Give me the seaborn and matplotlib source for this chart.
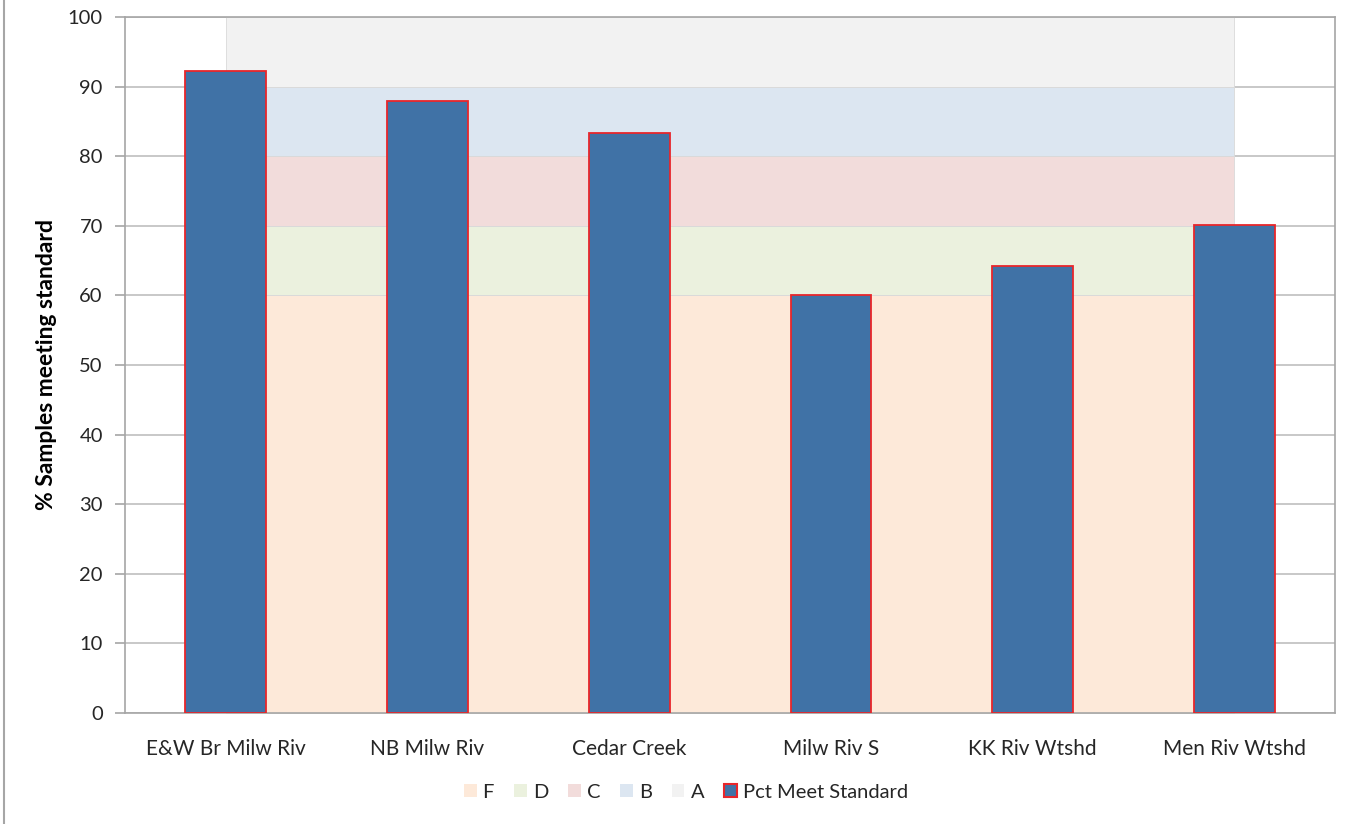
import matplotlib
matplotlib.use("Agg")
import matplotlib.pyplot as plt
from matplotlib.patches import Patch
from matplotlib.lines import Line2D
import numpy as np
import pandas as pd
import seaborn as sns

# Sites and share of samples meeting the standard
sites = ["E&W Br Milw Riv", "NB Milw Riv", "Cedar Creek",
         "Milw Riv S", "KK Riv Wtshd", "Men Riv Wtshd"]
pct_meet = [92.2, 87.9, 83.3, 60.0, 64.2, 70.1]

# Grade bands (stacked thicknesses from 0 to 100)
grade_names = ["F", "D", "C", "B", "A"]
grade_size = [60, 10, 10, 10, 10]
grade_colors = ["#FDE9D9", "#EBF1DE", "#F2DCDB", "#DCE6F1", "#F2F2F2"]

bar_color = "#4072A6"
edge_color = "#E8262B"

sns.set_theme(style="white")
plt.rcParams["font.family"] = ["Lato", "DejaVu Sans"]

fig = plt.figure(figsize=(13.57, 8.24), dpi=100)
ax = fig.add_axes([125 / 1357, 1 - 713 / 824, (1335 - 125) / 1357, (713 - 17) / 824])

df = pd.DataFrame({"site": sites, "pct": pct_meet})
x = np.arange(len(sites))

# Stacked grade bands spanning first to last category centre
base = 0.0
for name, size, col in zip(grade_names, grade_size, grade_colors):
    ax.fill_between([x[0], x[-1]], [base, base], [base + size, base + size],
                    facecolor=col, edgecolor="#D9D9D9", linewidth=0.6, zorder=1)
    base += size

sns.barplot(data=df, x="site", y="pct", ax=ax, color=bar_color, width=0.4,
            edgecolor=edge_color, linewidth=1.3, saturation=1, zorder=3)
for p in ax.patches:
    p.set_zorder(3)

ax.set_xlim(-0.5, len(sites) - 0.5)
ax.set_ylim(0, 100)
ax.set_yticks(range(0, 101, 10))
ax.yaxis.grid(True, color="#BFBFBF", linewidth=1.2, zorder=0)
ax.set_axisbelow(True)

for s in ax.spines.values():
    s.set_visible(True)
    s.set_color("#A6A6A6")
    s.set_linewidth(1.2)

ax.tick_params(axis="y", which="both", left=True, length=7, width=1.2,
               color="#A6A6A6", labelsize=14.5, labelcolor="#262626", pad=9)
ax.tick_params(axis="x", bottom=False, labelsize=15, labelcolor="#262626", pad=13)
ax.set_xlabel("")
ax.set_ylabel("% Samples meeting standard", fontsize=16.5, fontweight="bold",
              color="#000000", labelpad=8)

handles = [Patch(facecolor=c, edgecolor="none", label=n)
           for n, c in zip(grade_names, grade_colors)]
handles.append(Patch(facecolor=bar_color, edgecolor=edge_color, linewidth=1.5,
                     label="Pct Meet Standard"))
fig.legend(handles=handles, loc="center", bbox_to_anchor=(686 / 1357, 1 - 792 / 824),
           ncol=6, frameon=False, fontsize=14.5, handlelength=0.62, handleheight=0.62,
           handletextpad=0.3, columnspacing=1.0, labelcolor="#262626")

# Outer chart-area edge on the left
fig.add_artist(Line2D([4 / 1357, 4 / 1357], [0, 1], transform=fig.transFigure,
                      color="#A6A6A6", linewidth=1.5))

fig.savefig("out.png", dpi=100)
